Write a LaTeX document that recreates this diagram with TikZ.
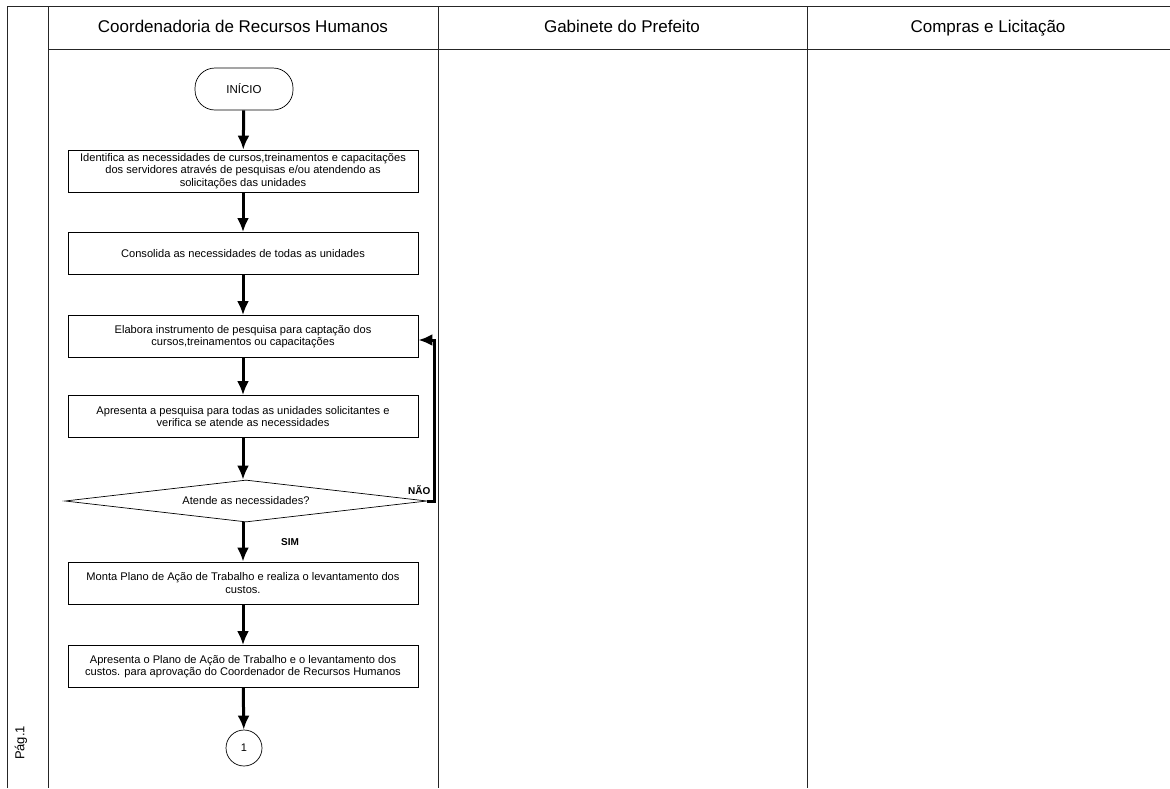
\documentclass[tikz,border=0pt]{standalone}
\usepackage{fontspec}
\setmainfont{Liberation Sans}
\usetikzlibrary{arrows.meta,shapes.geometric,positioning}

\tikzset{
	lane/.style={line width=0.8pt,black!85},
	lanetitle/.style={font=\fontsize{17}{20}\selectfont,text height=12pt,text depth=3pt},
	task/.style={draw,line width=0.7pt,minimum width=350pt,minimum height=42pt,
		align=center,inner sep=1pt,font=\fontsize{11.1}{12.2}\selectfont},
	flow/.style={-{Latex[length=14pt,width=12pt]},line width=3pt},
	answer/.style={font=\bfseries\fontsize{10}{12}\selectfont}
}

\begin{document}
\begin{tikzpicture}[x=1pt,y=-1pt]

	\useasboundingbox (0,0) rectangle (1170,788);

	% swimlanes
	\draw[lane] (7,788) -- (7,6) -- (1170,6);
	\draw[lane] (48,6) -- (48,788);
	\draw[lane] (438,6) -- (438,788);
	\draw[lane] (807,6) -- (807,788);
	\draw[lane] (48,49) -- (1170,49);

	\node[lanetitle] (crh) at (243,28) {Coordenadoria de Recursos Humanos};
	\node[lanetitle] (gab) at (622,28) {Gabinete do Prefeito};
	\node[lanetitle] (cpl) at (988,28) {Compras e Licitação};
	\node[rotate=90,font=\fontsize{13}{15}\selectfont] (pag) at (21,743) {Pág.1};

	% flow
	\node[draw,line width=0.7pt,rounded corners=20pt,minimum width=98pt,minimum height=42pt,
		font=\fontsize{11.5}{13}\selectfont] (inicio) at (244,89) {INÍCIO};
	\node[task] (ident) at (243,171) {Identifica as necessidades de cursos,treinamentos e capacitações\\
		dos servidores através de pesquisas e/ou atendendo as\\solicitações das unidades};
	\node[task] (cons) at (243,253.5) {Consolida as necessidades de todas as unidades};
	\node[task] (elab) at (243,336.5) {Elabora instrumento de pesquisa para captação dos\\
		cursos,treinamentos ou capacitações};
	\node[task] (apres) at (243,416.5) {Apresenta a pesquisa para todas as unidades solicitantes e\\
		verifica se atende as necessidades};
	\node[draw,diamond,aspect=8.6,line width=0.7pt,minimum width=362pt,minimum height=42pt,inner sep=0pt,
		font=\fontsize{11.1}{12.2}\selectfont] (dec) at (246,501) {Atende as necessidades?};
	\node[task] (plano) at (243,583) {Monta Plano de Ação de Trabalho e realiza o levantamento dos\\custos.};
	\node[task] (aprov) at (243,666.5) {Apresenta o Plano de Ação de Trabalho e o levantamento dos\\
		custos. para aprovação do Coordenador de Recursos Humanos};
	\node[draw,circle,line width=0.7pt,minimum size=36pt,inner sep=0pt,
		font=\fontsize{11}{13}\selectfont] (con1) at (244,748) {1};

	\draw[flow] (inicio) -- (ident);
	\draw[flow] (ident) -- (cons);
	\draw[flow] (cons) -- (elab);
	\draw[flow] (elab) -- (apres);
	\draw[flow] (apres) -- (dec.north -| apres);
	\draw[flow] (dec.south -| apres) -- (plano);
	\draw[flow] (plano) -- (aprov);
	\draw[flow] (aprov) -- (con1);

	% retorno
	\coordinate (volta) at (434,340);
	\draw[flow] (dec.east) -| (volta) -- (volta -| elab.east);

	\node[answer,anchor=east] (nao) at (434,490) {NÃO};
	\node[answer] (sim) at (290,542) {SIM};

\end{tikzpicture}
\end{document}
